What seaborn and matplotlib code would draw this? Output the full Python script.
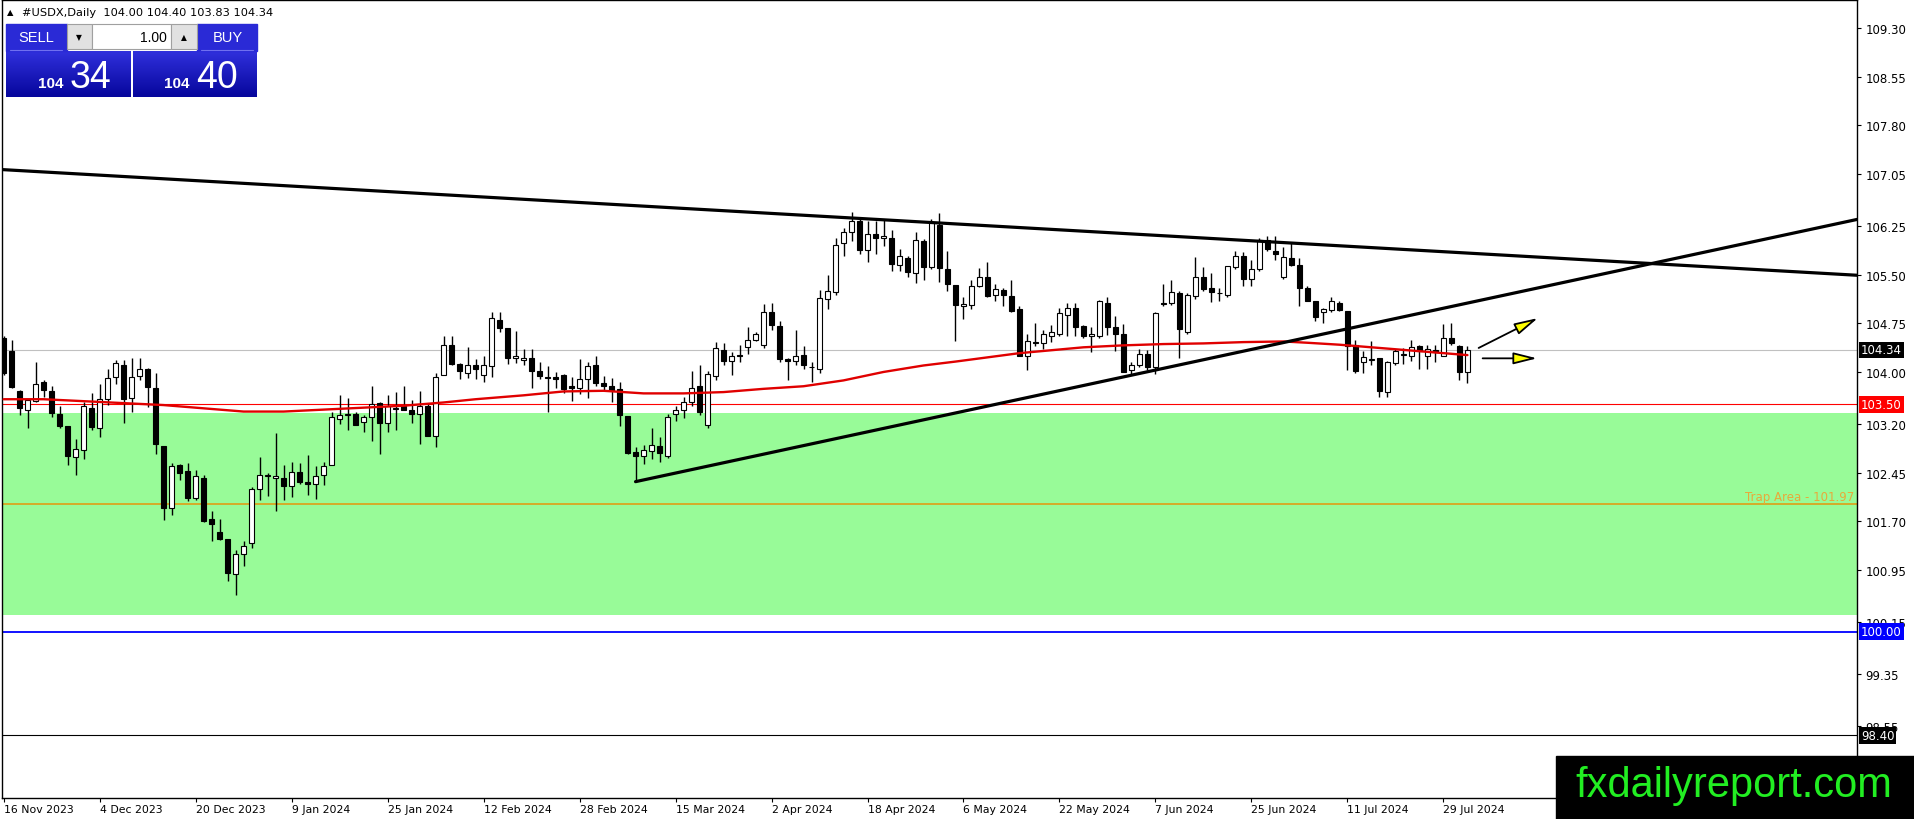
import numpy as np
import pandas as pd
import seaborn as sns
import matplotlib
matplotlib.use("Agg")
import matplotlib.pyplot as plt
import matplotlib.transforms as mtransforms
from matplotlib.patches import Rectangle
from matplotlib.colors import LinearSegmentedColormap

# daily candles, 16 Nov 2023 .. 1 Aug 2024
opens = [104.52, 104.33, 103.70, 103.42, 103.55, 103.85, 103.71, 103.36, 103.16, 102.69,
         102.80, 103.44, 103.13, 103.59, 103.92, 104.11, 103.60, 103.94, 104.04, 103.76,
         102.86, 101.90, 102.56, 102.47, 102.06, 102.36, 101.73, 101.53, 101.43, 100.88,
         101.20, 101.37, 102.20, 102.40, 102.36, 102.37, 102.24, 102.46, 102.30, 102.28,
         102.41, 102.57, 103.28, 103.33, 103.36, 103.23, 103.30, 103.52, 103.21, 103.43,
         103.47, 103.41, 103.36, 103.47, 103.01, 103.96, 104.41, 104.13, 103.99, 104.10,
         103.96, 104.09, 104.80, 104.67, 104.21, 104.18, 104.21, 104.01, 103.93, 103.92,
         103.96, 103.79, 103.76, 103.89, 104.11, 103.83, 103.78, 103.73, 103.32, 102.76,
         102.70, 102.78, 102.86, 102.71, 103.35, 103.41, 103.54, 103.79, 103.19, 103.94,
         104.34, 104.17, 104.26, 104.39, 104.49, 104.41, 104.92, 104.71, 104.20, 104.17,
         104.26, 104.08, 104.05, 105.13, 105.23, 105.99, 106.16, 106.32, 105.88, 106.13,
         106.06, 106.07, 105.65, 105.75, 105.53, 106.02, 105.61, 106.27, 105.58, 105.34,
         105.01, 105.03, 105.32, 105.47, 105.18, 105.26, 105.17, 104.97, 104.25, 104.46,
         104.45, 104.55, 104.58, 104.88, 104.99, 104.71, 104.55, 104.56, 105.07, 104.70,
         104.58, 104.03, 104.10, 104.27, 104.07, 105.06, 105.06, 105.21, 104.61, 105.17,
         105.47, 105.30, 105.22, 105.18, 105.61, 105.78, 105.44, 105.58, 106.04, 105.87,
         105.47, 105.75, 105.65, 105.30, 105.10, 104.93, 104.96, 105.07, 104.94, 104.42,
         104.15, 104.19, 104.21, 103.69, 104.14, 104.26, 104.25, 104.40, 104.25, 104.34,
         104.25, 104.52, 104.40, 104.00]
highs = [104.55, 104.50, 103.72, 103.58, 104.16, 103.87, 103.79, 103.47, 103.17, 102.96,
         103.53, 103.68, 103.81, 104.05, 104.18, 104.18, 104.22, 104.22, 104.06, 103.99,
         102.86, 102.60, 102.58, 102.60, 102.49, 102.42, 101.86, 101.73, 101.43, 101.26,
         101.39, 102.22, 102.69, 102.45, 103.06, 102.56, 102.62, 102.59, 102.72, 102.55,
         102.62, 103.38, 103.65, 103.60, 103.38, 103.34, 103.78, 103.53, 103.65, 103.69,
         103.78, 103.57, 103.71, 103.52, 103.99, 104.55, 104.55, 104.14, 104.38, 104.20,
         104.24, 104.92, 104.93, 104.67, 104.63, 104.35, 104.36, 104.16, 104.09, 104.00,
         103.97, 103.92, 104.20, 104.16, 104.25, 103.94, 103.90, 103.85, 103.32, 102.85,
         102.87, 103.13, 103.00, 103.35, 103.48, 103.61, 104.01, 104.11, 104.01, 104.46,
         104.44, 104.30, 104.41, 104.70, 104.61, 105.04, 105.06, 104.79, 104.21, 104.65,
         104.40, 104.15, 105.26, 105.49, 106.06, 106.22, 106.47, 106.36, 106.32, 106.32,
         106.35, 106.19, 105.90, 105.78, 106.15, 106.05, 106.35, 106.45, 105.87, 105.34,
         105.15, 105.42, 105.60, 105.69, 105.35, 105.29, 105.42, 105.01, 104.58, 104.75,
         104.64, 104.72, 104.98, 105.07, 105.06, 104.72, 104.69, 105.11, 105.15, 104.87,
         104.74, 104.15, 104.36, 104.34, 104.92, 105.35, 105.42, 105.25, 105.21, 105.77,
         105.61, 105.52, 105.30, 105.64, 105.87, 105.85, 105.73, 106.07, 106.09, 106.09,
         105.92, 106.00, 105.75, 105.32, 105.10, 104.99, 105.16, 105.10, 104.94, 104.50,
         104.33, 104.47, 104.21, 104.17, 104.36, 104.37, 104.50, 104.42, 104.42, 104.42,
         104.74, 104.76, 104.41, 104.40]
lows = [103.96, 103.76, 103.33, 103.13, 103.53, 103.62, 103.31, 103.14, 102.56, 102.42,
        102.66, 103.11, 103.00, 103.49, 103.82, 103.22, 103.39, 103.88, 103.46, 102.73,
        101.72, 101.79, 102.33, 102.01, 102.03, 101.69, 101.39, 101.41, 100.78, 100.57,
        101.01, 101.29, 102.03, 102.09, 101.86, 102.03, 102.07, 102.28, 102.10, 102.04,
        102.26, 102.56, 103.20, 103.10, 103.18, 103.07, 102.94, 102.73, 103.07, 103.10,
        103.42, 103.22, 102.89, 103.01, 102.85, 103.95, 104.10, 103.89, 103.91, 103.89,
        103.85, 103.93, 104.61, 104.13, 104.14, 104.10, 103.76, 103.89, 103.39, 103.75,
        103.67, 103.56, 103.66, 103.60, 103.79, 103.70, 103.53, 103.16, 102.74, 102.31,
        102.58, 102.66, 102.62, 102.68, 103.25, 103.29, 103.48, 103.33, 103.13, 103.87,
        104.10, 103.96, 104.15, 104.27, 104.47, 104.37, 104.64, 104.16, 103.87, 104.10,
        104.04, 103.84, 103.98, 104.97, 105.19, 105.79, 106.02, 105.82, 105.69, 105.82,
        105.94, 105.56, 105.55, 105.47, 105.37, 105.42, 105.58, 105.39, 105.25, 104.47,
        104.82, 104.97, 105.31, 105.16, 105.10, 105.01, 104.92, 104.24, 104.03, 104.40,
        104.35, 104.46, 104.55, 104.56, 104.56, 104.53, 104.30, 104.53, 104.57, 104.33,
        104.00, 103.95, 104.07, 104.03, 103.97, 105.01, 105.03, 104.21, 104.58, 105.12,
        105.25, 105.08, 105.10, 105.15, 105.59, 105.32, 105.32, 105.56, 105.87, 105.72,
        105.43, 105.64, 105.01, 105.09, 104.78, 104.75, 104.93, 104.94, 104.03, 103.99,
        103.98, 104.10, 103.61, 103.61, 104.10, 104.12, 104.17, 104.05, 104.05, 104.16,
        104.25, 104.42, 103.88, 103.83]
closes = [103.98, 103.77, 103.44, 103.57, 103.82, 103.72, 103.37, 103.17, 102.70, 102.82,
          103.47, 103.15, 103.59, 103.90, 104.14, 103.58, 103.93, 104.04, 103.77, 102.89,
          101.90, 102.55, 102.45, 102.06, 102.40, 101.70, 101.66, 101.42, 100.91, 101.19,
          101.32, 102.19, 102.42, 102.41, 102.39, 102.25, 102.46, 102.31, 102.27, 102.39,
          102.55, 103.30, 103.33, 103.36, 103.19, 103.30, 103.50, 103.21, 103.47, 103.44,
          103.42, 103.36, 103.47, 103.02, 103.92, 104.41, 104.13, 104.01, 104.10, 104.04,
          104.11, 104.83, 104.67, 104.22, 104.24, 104.21, 104.02, 103.94, 103.91, 103.89,
          103.73, 103.76, 103.89, 104.09, 103.83, 103.79, 103.72, 103.33, 102.75, 102.70,
          102.80, 102.88, 102.75, 103.30, 103.41, 103.53, 103.76, 103.38, 103.97, 104.37,
          104.17, 104.24, 104.24, 104.50, 104.59, 104.92, 104.72, 104.20, 104.17, 104.24,
          104.10, 104.07, 105.14, 105.24, 105.96, 106.16, 106.32, 105.88, 106.13, 106.07,
          106.09, 105.66, 105.78, 105.54, 106.04, 105.61, 106.31, 105.60, 105.36, 105.03,
          105.04, 105.33, 105.47, 105.17, 105.28, 105.18, 104.94, 104.25, 104.47, 104.45,
          104.58, 104.61, 104.91, 104.98, 104.70, 104.55, 104.58, 105.09, 104.70, 104.58,
          104.00, 104.11, 104.28, 104.07, 104.91, 105.05, 105.23, 104.66, 105.18, 105.47,
          105.28, 105.23, 105.21, 105.63, 105.78, 105.43, 105.59, 106.04, 105.89, 105.82,
          105.77, 105.65, 105.30, 105.10, 104.84, 104.97, 105.09, 104.96, 104.40, 104.02,
          104.23, 104.19, 103.70, 104.16, 104.33, 104.27, 104.39, 104.33, 104.36, 104.30,
          104.53, 104.45, 104.00, 104.34]

# red moving average, sampled along the chart
ma_bars = [0, 5, 10, 20, 25, 30, 35, 40, 45, 50, 55, 59, 65, 70, 75, 80, 85, 90, 95,
           100, 105, 110, 115, 119, 127, 135, 140, 145, 150, 155, 160, 163, 167, 170,
           175, 180, 183]
ma_vals = [103.58, 103.58, 103.55, 103.49, 103.44, 103.39, 103.39, 103.42, 103.45,
           103.48, 103.53, 103.58, 103.64, 103.70, 103.71, 103.67, 103.67, 103.69,
           103.74, 103.78, 103.87, 104.00, 104.10, 104.16, 104.29, 104.38, 104.41,
           104.43, 104.44, 104.46, 104.47, 104.45, 104.42, 104.39, 104.34, 104.29, 104.26]

date_bars = [0, 12, 24, 36, 48, 60, 72, 84, 96, 108, 120, 132, 144, 156, 168, 180]
date_labels = ["16 Nov 2023", "4 Dec 2023", "20 Dec 2023", "9 Jan 2024", "25 Jan 2024",
               "12 Feb 2024", "28 Feb 2024", "15 Mar 2024", "2 Apr 2024", "18 Apr 2024",
               "6 May 2024", "22 May 2024", "7 Jun 2024", "25 Jun 2024", "11 Jul 2024",
               "29 Jul 2024"]
price_ticks = [109.30, 108.55, 107.80, 107.05, 106.25, 105.50, 104.75, 104.00, 103.20,
               102.45, 101.70, 100.95, 100.15, 99.35, 98.55]

# drawn objects
down_bars = [-0.45, 231.7]
down_prices = [107.12, 105.49]
up_bars = [79, 231.7]
up_prices = [102.31, 106.35]
zone_low, zone_high = 100.25, 103.37
trap_level = 101.97
support_level = 103.50
bid_price = 104.34
round_level = 100.00
low_level = 98.40
arrow_from_bars = [184.4, 184.9]
arrow_from_prices = [104.37, 104.21]
arrow_to_bars = [191.8, 191.7]
arrow_to_prices = [104.83, 104.21]

sns.set_theme(style="white")
plt.rcParams['font.family'] = ['DejaVu Sans']

W, H = 1914, 820
fig = plt.figure(figsize=(W / 100, H / 100), dpi=100)
fig.patch.set_facecolor('white')
ax = fig.add_axes([2 / W, 21 / H, 1855 / W, 798 / H])

df = pd.DataFrame({'bar': np.arange(len(opens)), 'open': opens, 'high': highs,
                   'low': lows, 'close': closes})
bull = df['close'] >= df['open']

# zone and levels
ax.axhspan(zone_low, zone_high, color='#98fb98', lw=0, zorder=0)
ax.axhline(trap_level, color='#daa520', lw=1.3, zorder=1)
ax.axhline(support_level, color='#ff0000', lw=0.8, zorder=1)
ax.axhline(bid_price, color='#c0c0c0', lw=0.8, zorder=1)
ax.axhline(round_level, color='#0000ff', lw=1.3, zorder=1)
ax.axhline(low_level, color='black', lw=0.8, zorder=1)

# candles
ax.vlines(df['bar'], df['low'], df['high'], color='black', lw=1, zorder=2)
body = (df['close'] - df['open']).abs().clip(lower=0.01)
ax.bar(df['bar'], body, bottom=df[['open', 'close']].min(axis=1), width=0.66,
       color=np.where(bull, 'white', 'black'), edgecolor='black', linewidth=0.8, zorder=3)

ma = pd.DataFrame({'bar': ma_bars, 'ma': ma_vals})
sns.lineplot(data=ma, x='bar', y='ma', color='#e00000', lw=1.7, ax=ax, zorder=4)

ax.plot(down_bars, down_prices, color='black', lw=2.3, zorder=5)
ax.plot(up_bars, up_prices, color='black', lw=2.3, zorder=5)

for x0, y0, x1, y1 in zip(arrow_from_bars, arrow_from_prices, arrow_to_bars, arrow_to_prices):
    ax.annotate('', xy=(x1, y1), xytext=(x0, y0), zorder=6,
                arrowprops=dict(arrowstyle='-|>,head_length=1.2,head_width=0.3',
                                fc='#ffff00', ec='black', lw=1.3, shrinkA=0, shrinkB=0))

ax.set_xlim(-0.2, 231.7)
ax.set_ylim(97.436, 109.731)
ax.set_xlabel('')
ax.set_ylabel('')
ax.grid(False)
ax.yaxis.tick_right()
ax.set_yticks(price_ticks)
ax.set_yticklabels([f'{v:.2f}' for v in price_ticks])
ax.set_xticks(date_bars)
ax.set_xticklabels(date_labels, ha='left')
ax.tick_params(axis='y', direction='out', length=3, width=0.8, pad=3, labelsize=8.5,
               colors='black', right=True, left=False)
ax.tick_params(axis='x', direction='out', length=3, width=0.8, pad=1, labelsize=7.8,
               colors='black', bottom=True)
for s in ax.spines.values():
    s.set_color('black')
    s.set_linewidth(1)

blend = mtransforms.blended_transform_factory(ax.transAxes, ax.transData)
lab_tr = mtransforms.offset_copy(blend, fig=fig, x=4, y=0, units='dots')
for val, fc in [(bid_price, 'black'), (support_level, '#ff0000'),
                (round_level, '#0000ff'), (low_level, 'black')]:
    ax.text(1, val, f'{val:.2f}', transform=lab_tr, ha='left', va='center', color='white',
            fontsize=8.5, bbox=dict(boxstyle='square,pad=0.15', fc=fc, ec='none'),
            clip_on=False, zorder=10)
trap_tr = mtransforms.offset_copy(blend, fig=fig, x=-3, y=1, units='dots')
ax.text(1, trap_level, f'Trap Area - {trap_level:.2f}', transform=trap_tr, ha='right',
        va='bottom', color='#e8a93a', fontsize=8.5, zorder=6)

# overlay: header, trade panel, logo (pixel coords)
ov = fig.add_axes([0, 0, 1, 1], zorder=20)
ov.patch.set_alpha(0)
ov.axis('off')

ov.text(7, 13, '▲', fontsize=6, va='center', color='black')
ov.text(22, 13, '#USDX,Daily  104.00 104.40 103.83 104.34', fontsize=8.2,
        va='center', color='black')

blue = LinearSegmentedColormap.from_list('panel', ['#06069c', '#3030dc'])
grad = np.linspace(1, 0, 64).reshape(-1, 1)
for x0, y0, x1, y1 in [(6, 52, 131, 98), (133, 52, 257, 98)]:
    ov.imshow(grad, extent=(x0, x1, y1, y0), cmap=blue, aspect='auto', zorder=1)
ov.add_patch(Rectangle((6, 25), 61, 27, color='#2a2ad6', zorder=1))
ov.add_patch(Rectangle((197, 25), 60, 27, color='#2a2ad6', zorder=1))
ov.plot([10, 62], [51, 51], color='#7070f0', lw=0.8, zorder=2)
ov.plot([201, 253], [51, 51], color='#7070f0', lw=0.8, zorder=2)
ov.add_patch(Rectangle((67, 25), 25, 25, fc='#e1e1e1', ec='#a0a0a0', lw=0.8, zorder=2))
ov.add_patch(Rectangle((92, 25), 79, 25, fc='white', ec='#a0a0a0', lw=0.8, zorder=2))
ov.add_patch(Rectangle((171, 25), 26, 25, fc='#e1e1e1', ec='#a0a0a0', lw=0.8, zorder=2))
ov.text(79, 38, '▼', fontsize=5.5, ha='center', va='center', color='black', zorder=3)
ov.text(184, 38, '▲', fontsize=5.5, ha='center', va='center', color='black', zorder=3)
ov.text(167, 38, '1.00', fontsize=10, ha='right', va='center', color='black', zorder=3,
        family='Liberation Sans')
ov.text(36, 38, 'SELL', fontsize=10.5, ha='center', va='center', color='white', zorder=3,
        family='Liberation Sans')
ov.text(228, 38, 'BUY', fontsize=10.5, ha='center', va='center', color='white', zorder=3,
        family='Liberation Sans')
ov.text(38, 88, '104', fontsize=11, fontweight='bold', ha='left', va='baseline',
        color='white', zorder=3, family='Liberation Sans')
ov.text(70, 88, '34', fontsize=27, ha='left', va='baseline', color='white', zorder=3,
        family='Liberation Sans')
ov.text(164, 88, '104', fontsize=11, fontweight='bold', ha='left', va='baseline',
        color='white', zorder=3, family='Liberation Sans')
ov.text(196, 88, '40', fontsize=27, ha='left', va='baseline', color='white', zorder=3,
        family='Liberation Sans')

ov.add_patch(Rectangle((1556, 757), 358, 63, color='black', zorder=1))
ov.text(1734, 786, 'fxdailyreport.com', fontsize=30, ha='center', va='center',
        color='#22ee22', family='Liberation Sans', zorder=2)

ov.set_xlim(0, W)
ov.set_ylim(H, 0)

fig.savefig('out.png', dpi=100)
